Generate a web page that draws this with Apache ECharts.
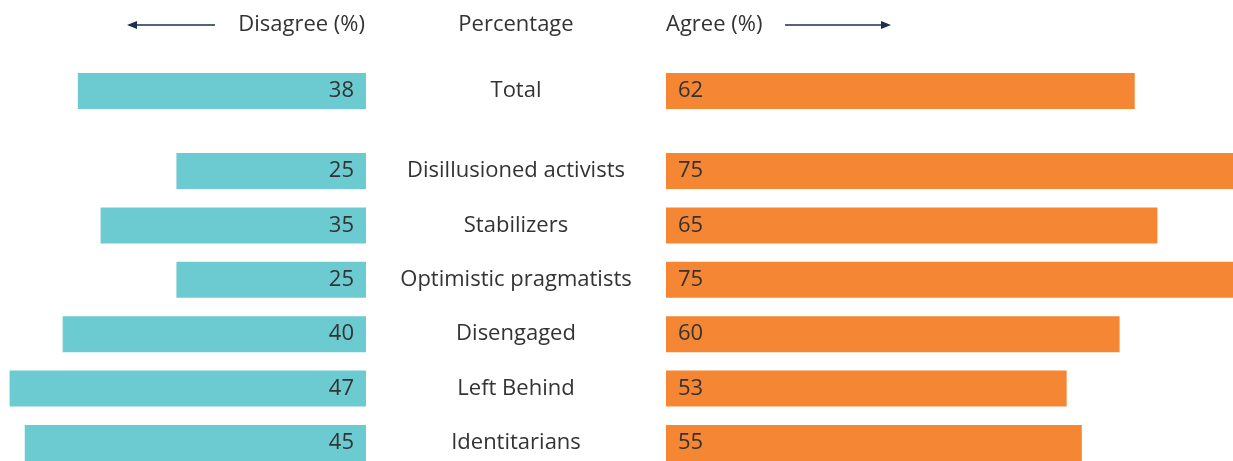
<!DOCTYPE html>
<html>
<head>
<meta charset="utf-8">
<script src="https://cdn.jsdelivr.net/npm/echarts@6/dist/echarts.min.js"></script>
<style>
  html, body { margin: 0; padding: 0; background: #fff; }
  #chart { width: 1233px; height: 461px; }
</style>
</head>
<body>
<div id="chart"></div>
<script>
// data
let totalLabel = ['Total']
let totalDisagree = [38]
let totalAgree = [62]
let groups = ['Disillusioned activists', 'Stabilizers', 'Optimistic pragmatists', 'Disengaged', 'Left Behind', 'Identitarians']
let groupDisagree = [25, 35, 25, 40, 47, 45]
let groupAgree = [75, 65, 75, 60, 53, 55]

let teal = '#6ccbd1'
let orange = '#f48634'
let textColor = '#333333'
let navy = '#1b2f52'
let font = 'Open Sans'
let fs = 22

let chart = echarts.init(document.getElementById('chart'))

function catAxis(idx, data, showLabel, gap) {
  return {
    type: 'category',
    gridIndex: idx,
    data: data,
    inverse: true,
    boundaryGap: gap,
    position: 'right',
    axisLine: { show: false },
    axisTick: { show: false },
    splitLine: { show: false },
    axisLabel: {
      show: showLabel,
      margin: 150,
      align: 'center',
      color: textColor,
      fontSize: fs,
      fontFamily: font
    }
  }
}
function valAxis(idx, max, inverse) {
  return {
    type: 'value',
    gridIndex: idx,
    min: 0,
    max: max,
    inverse: inverse,
    show: false,
    splitLine: { show: false }
  }
}
function barSeries(idx, data, color, labelPos) {
  return {
    type: 'bar',
    xAxisIndex: idx,
    yAxisIndex: idx,
    data: data,
    barWidth: 36,
    itemStyle: { color: color },
    silent: true,
    label: {
      show: true,
      position: labelPos,
      distance: 12,
      color: textColor,
      fontSize: fs,
      fontFamily: font
    }
  }
}

let options = {
  animation: false,
  grid: [
    { left: 2, width: 364, top: 64, height: 54 },
    { left: 666, width: 568, top: 64, height: 54 },
    { left: 2, width: 364, top: 171, height: 272 },
    { left: 666, width: 568, top: 171, height: 272 }
  ],
  xAxis: [
    valAxis(0, 48, true),
    valAxis(1, 75, false),
    valAxis(2, 48, true),
    valAxis(3, 75, false)
  ],
  yAxis: [
    catAxis(0, totalLabel, true, true),
    catAxis(1, totalLabel, false, true),
    catAxis(2, groups, true, false),
    catAxis(3, groups, false, false)
  ],
  series: [
    barSeries(0, totalDisagree, teal, 'insideRight'),
    barSeries(1, totalAgree, orange, 'insideLeft'),
    barSeries(2, groupDisagree, teal, 'insideRight'),
    barSeries(3, groupAgree, orange, 'insideLeft')
  ],
  graphic: [
    { type: 'text', x: 365, y: 25, style: { text: 'Disagree (%)', fill: textColor, font: fs + 'px "Open Sans"', align: 'right', verticalAlign: 'middle' } },
    { type: 'text', x: 516, y: 25, style: { text: 'Percentage', fill: textColor, font: fs + 'px "Open Sans"', align: 'center', verticalAlign: 'middle' } },
    { type: 'text', x: 666, y: 25, style: { text: 'Agree (%)', fill: textColor, font: fs + 'px "Open Sans"', align: 'left', verticalAlign: 'middle' } },
    { type: 'line', shape: { x1: 134, y1: 25, x2: 215, y2: 25 }, style: { stroke: navy, lineWidth: 1.5 } },
    { type: 'polygon', shape: { points: [[127, 25], [137, 21], [137, 29]] }, style: { fill: navy } },
    { type: 'line', shape: { x1: 785, y1: 25, x2: 884, y2: 25 }, style: { stroke: navy, lineWidth: 1.5 } },
    { type: 'polygon', shape: { points: [[891, 25], [881, 21], [881, 29]] }, style: { fill: navy } }
  ]
}
chart.setOption(options)
</script>
</body>
</html>
